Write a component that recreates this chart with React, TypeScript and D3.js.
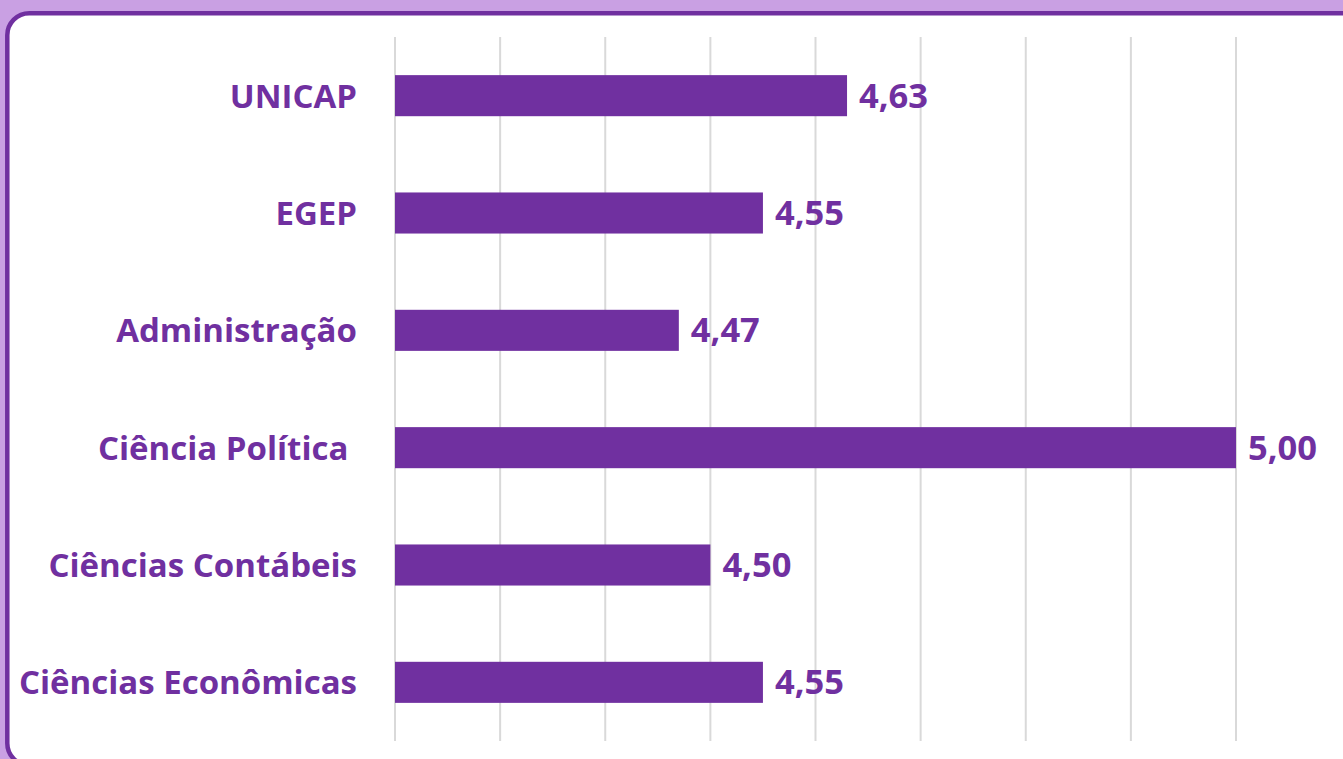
import React from "react";
import * as d3 from "d3";

const categories = ["UNICAP", "EGEP", "Administração", "Ciência Política ", "Ciências Contábeis", "Ciências Econômicas"];
const values = [4.63, 4.55, 4.47, 5.0, 4.5, 4.55];
const gridTicks = [4.2, 4.3, 4.4, 4.5, 4.6, 4.7, 4.8, 4.9, 5.0];

const W = 1343;
const H = 759;
const PURPLE = "#7030A0";

export default function App() {
  const x = d3.scaleLinear().domain([4.2, 5.0]).range([395, 1236]);
  const y = d3
    .scaleBand<string>()
    .domain(categories)
    .range([37, 741])
    .paddingInner(0.65)
    .paddingOuter(0.325);
  const fmt = (v: number) => v.toFixed(2).replace(".", ",");
  const font = "'Open Sans', 'Noto Sans', sans-serif";
  const labelX = 357;

  return (
    <svg
      width={W}
      height={H}
      style={{ position: "absolute", left: 0, top: 0, display: "block" }}
    >
      <rect x={0} y={0} width={W} height={H} fill="#C9A0E3" />
      <rect
        x={7.3}
        y={13.2}
        width={1500}
        height={752}
        rx={22}
        ry={22}
        fill="#FFFFFF"
        stroke={PURPLE}
        strokeWidth={4.5}
      />
      {gridTicks.map((t) => (
        <line
          key={t}
          x1={x(t)}
          x2={x(t)}
          y1={37}
          y2={741}
          stroke="#D9D9D9"
          strokeWidth={2}
        />
      ))}
      {categories.map((c, i) => {
        const yc = (y(c) as number) + y.bandwidth() / 2;
        return (
          <g key={c}>
            <rect
              x={x(4.2)}
              y={y(c)}
              width={x(values[i]) - x(4.2)}
              height={y.bandwidth()}
              fill={PURPLE}
            />
            <text
              x={labelX}
              y={yc + 12}
              textAnchor="end"
              fontFamily={font}
              fontWeight={700}
              fontSize={33}
              fill={PURPLE}
              style={{ whiteSpace: "pre" }}
            >
              {c}
            </text>
            <text
              x={x(values[i]) + 12}
              y={yc + 12}
              fontFamily={font}
              fontWeight={700}
              fontSize={34.5}
              fill={PURPLE}
            >
              {fmt(values[i])}
            </text>
          </g>
        );
      })}
    </svg>
  );
}
